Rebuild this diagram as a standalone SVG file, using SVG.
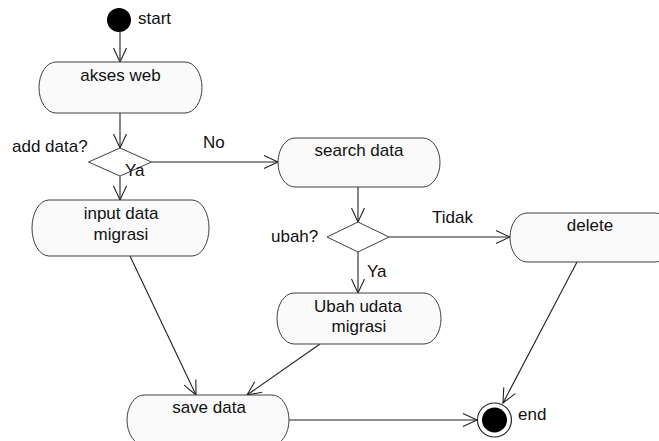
<svg xmlns="http://www.w3.org/2000/svg" width="659" height="441" viewBox="0 0 659 441">
<style>
.node{fill:#fafafa;stroke:#404040;stroke-width:1}
.dia{fill:#ffffff;stroke:#404040;stroke-width:1}
.t{font-family:"Liberation Sans",Arial,sans-serif;font-size:17px;fill:#111}
.c{text-anchor:middle}
.e{fill:none;stroke:#222;stroke-width:1.1}
</style>
<defs>
<marker id="arr" markerUnits="userSpaceOnUse" markerWidth="18" markerHeight="18" viewBox="-16 -9 18 18" refX="0" refY="0" orient="auto">
<path d="M-14,-6.5 L0,0 L-14,6.5" fill="none" stroke="#222" stroke-width="1.1"/>
</marker>
</defs>
<g id="connectors">
<line class="e" x1="120" y1="32" x2="120" y2="62" marker-end="url(#arr)"/>
<line class="e" x1="120" y1="113" x2="120" y2="148" marker-end="url(#arr)"/>
<line class="e" x1="120" y1="176" x2="120" y2="200" marker-end="url(#arr)"/>
<line class="e" x1="151.5" y1="162" x2="278" y2="162" marker-end="url(#arr)"/>
<line class="e" x1="358" y1="187" x2="358" y2="222" marker-end="url(#arr)"/>
<line class="e" x1="389" y1="237" x2="510" y2="237" marker-end="url(#arr)"/>
<line class="e" x1="358" y1="252" x2="358" y2="293" marker-end="url(#arr)"/>
<line class="e" x1="130" y1="256" x2="196" y2="395" marker-end="url(#arr)"/>
<line class="e" x1="320" y1="344" x2="247" y2="395" marker-end="url(#arr)"/>
<line class="e" x1="289" y1="420" x2="477" y2="420" marker-end="url(#arr)"/>
<line class="e" x1="577" y1="262" x2="503" y2="403" marker-end="url(#arr)"/>
</g>
<g id="start">
<circle cx="119" cy="20" r="12" fill="#000"/>
<text class="t" x="138" y="24">start</text>
</g>
<g id="akses-web">
<rect class="node" x="39" y="62" width="163" height="51" rx="17" ry="25.5"/>
<text class="t c" x="120.5" y="81">akses web</text>
</g>
<g id="add-data">
<polygon class="dia" points="120,148 151.5,162 120,176 88.5,162"/>
<text class="t" x="12" y="152">add data?</text>
</g>
<g id="input-data">
<rect class="node" x="32" y="200" width="177" height="56" rx="17" ry="28"/>
<text class="t c" x="121" y="219">input data</text>
<text class="t c" x="121" y="240">migrasi</text>
</g>
<g id="search-data">
<rect class="node" x="278" y="138" width="162" height="49" rx="17" ry="24.5"/>
<text class="t c" x="359" y="156">search data</text>
</g>
<g id="ubah">
<polygon class="dia" points="358,222 389,237 358,252 327,237"/>
<text class="t" x="271" y="242">ubah?</text>
</g>
<g id="delete">
<rect class="node" x="510" y="213" width="162" height="49" rx="17" ry="24.5"/>
<text class="t c" x="590" y="231">delete</text>
</g>
<g id="ubah-udata">
<rect class="node" x="277" y="293" width="164" height="51" rx="17" ry="25.5"/>
<text class="t c" x="358" y="312">Ubah udata</text>
<text class="t c" x="359" y="332">migrasi</text>
</g>
<g id="save-data">
<rect class="node" x="127" y="395" width="162" height="50" rx="17" ry="25"/>
<text class="t c" x="209" y="413">save data</text>
</g>
<g id="end">
<circle cx="494.5" cy="420" r="17" fill="#fff" stroke="#222" stroke-width="1.1"/>
<circle cx="494.5" cy="420" r="12.5" fill="#000"/>
<text class="t" x="518" y="420">end</text>
</g>
<g id="edge-labels">
<text class="t" x="203" y="148">No</text>
<text class="t" x="125" y="176">Ya</text>
<text class="t" x="432" y="223">Tidak</text>
<text class="t" x="367" y="277">Ya</text>
</g>
</svg>
